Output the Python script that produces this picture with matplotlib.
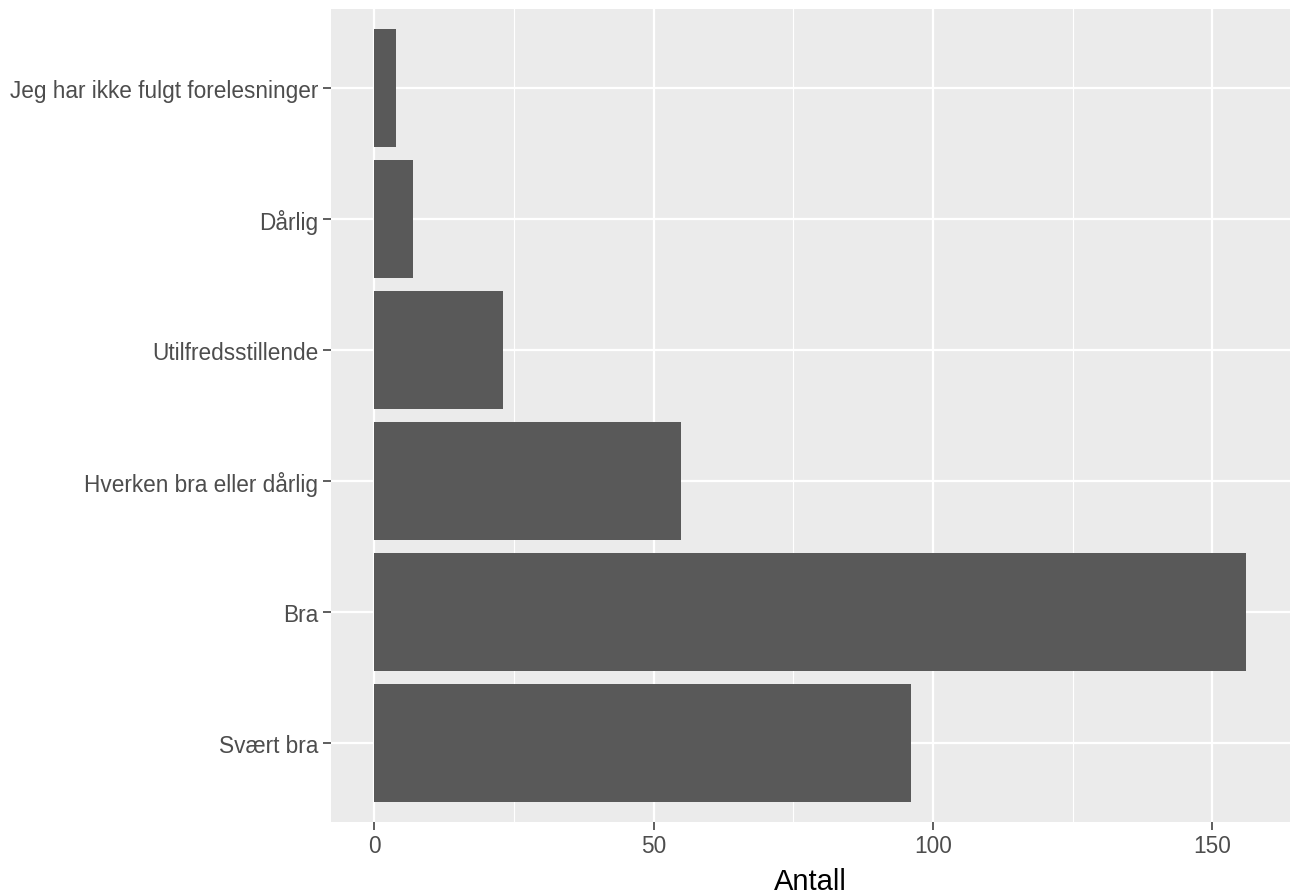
import numpy as np
import matplotlib
matplotlib.use('Agg')
import matplotlib.pyplot as plt

plt.rcParams['font.family'] = ['Liberation Sans', 'DejaVu Sans']

categories = ['Svært bra', 'Bra', 'Hverken bra eller dårlig',
              'Utilfredsstillende', 'Dårlig', 'Jeg har ikke fulgt forelesninger']
counts = [96, 156, 55, 23, 7, 4]
x_ticks = [0, 50, 100, 150]

W, H = 1292, 895
fig = plt.figure(figsize=(W / 100, H / 100), dpi=100)
left, right, top, bottom = 330.5, 1289.5, 10, 822.7
ax = fig.add_axes([left / W, 1 - bottom / H, (right - left) / W, (bottom - top) / H])

ax.set_facecolor('#EBEBEB')
y = np.arange(len(categories))
ax.barh(y, counts, height=0.9, color='#595959', zorder=3)

# ggplot-like expansion
xmax = max(counts)
ax.set_xlim(-0.05 * xmax, xmax * 1.05)
ax.set_ylim(-0.6, len(categories) - 0.4)

ax.set_xticks(x_ticks)
ax.set_xticks([25, 75, 125], minor=True)
ax.set_yticks(y)
ax.set_yticklabels(categories)

ax.grid(True, which='major', color='white', linewidth=1.6, zorder=0)
ax.grid(True, which='minor', axis='x', color='white', linewidth=0.8, zorder=0)
for s in ax.spines.values():
    s.set_visible(False)

ax.tick_params(which='major', length=5.8, width=1.1, color='#333333',
               labelcolor='#4D4D4D', labelsize=16.3)
ax.tick_params(axis='x', pad=3)
ax.tick_params(axis='y', pad=3)
ax.tick_params(which='minor', length=0)

fig.text((left + right) / 2 / W, 1 - 890 / H, 'Antall', fontsize=21,
         color='black', ha='center', va='baseline')

plt.savefig('out.png', dpi=100)
